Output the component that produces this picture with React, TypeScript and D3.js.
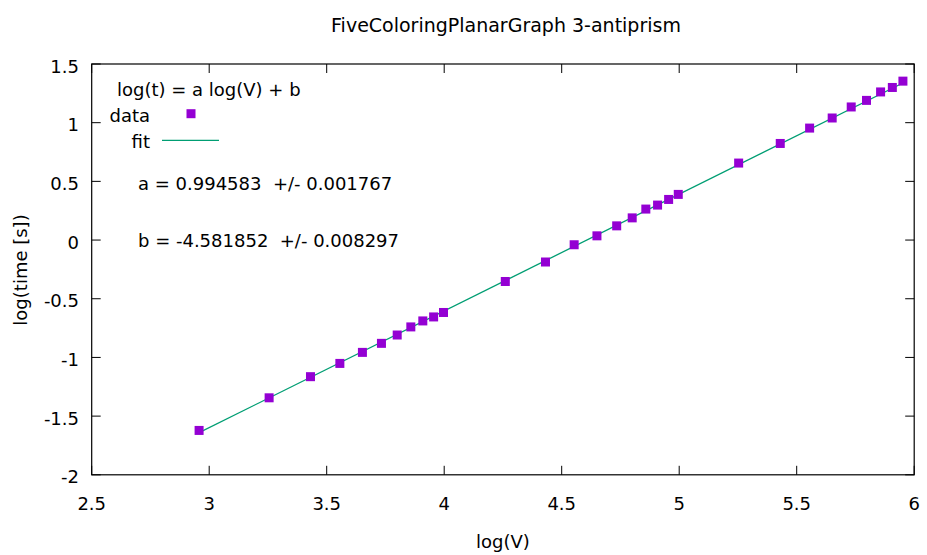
import React from "react";
import * as d3 from "d3";

const logV = [2.957, 3.255, 3.431, 3.556, 3.652, 3.733, 3.800, 3.858, 3.909, 3.955, 3.997, 4.260, 4.431, 4.553, 4.650, 4.734, 4.800, 4.858, 4.908, 4.955, 4.996, 5.253, 5.430, 5.555, 5.651, 5.732, 5.797, 5.857, 5.907, 5.952];
const logT = [-1.622, -1.344, -1.164, -1.051, -0.957, -0.880, -0.809, -0.740, -0.689, -0.655, -0.617, -0.353, -0.187, -0.040, 0.036, 0.121, 0.189, 0.264, 0.298, 0.346, 0.389, 0.656, 0.823, 0.954, 1.040, 1.134, 1.190, 1.262, 1.300, 1.354];
const fitA = 0.994583;
const fitB = -4.581852;
const xTicks = [2.5, 3, 3.5, 4, 4.5, 5, 5.5, 6];
const yTicks = [-2, -1.5, -1, -0.5, 0, 0.5, 1, 1.5];

const W = 927, H = 555;
const L = 91.7, R = 914.2, T = 64, B = 474.8;
const FONT = "DejaVu Sans";
const FS = 18;
const PURPLE = "#9400d3";
const GREEN = "#009e73";

export default function App() {
  const x = d3.scaleLinear().domain([2.5, 6]).range([L, R]);
  const y = d3.scaleLinear().domain([-2, 1.5]).range([B, T]);
  const xs = d3.extent(logV) as [number, number];
  const line = d3.line<number>().x(d => x(d)).y(d => y(fitA * d + fitB));
  const tl = 9;
  return (
    <svg width={W} height={H} style={{ position: "absolute", left: 0, top: 0, background: "#fff" }} fontFamily={FONT} fontSize={FS}>
      <rect x={0} y={0} width={W} height={H} fill="#fff" />
      {xTicks.map(t => (
        <g key={"x" + t}>
          <line x1={x(t)} x2={x(t)} y1={B} y2={B - tl} stroke="#000" strokeWidth={1} />
          <line x1={x(t)} x2={x(t)} y1={T} y2={T + tl} stroke="#000" strokeWidth={1} />
          <text x={x(t)} y={510} textAnchor="middle">{t}</text>
        </g>
      ))}
      {yTicks.map(t => (
        <g key={"y" + t}>
          <line x1={L} x2={L + tl} y1={y(t)} y2={y(t)} stroke="#000" strokeWidth={1} />
          <line x1={R} x2={R - tl} y1={y(t)} y2={y(t)} stroke="#000" strokeWidth={1} />
          <text x={79} y={y(t) + 8.5} textAnchor="end">{t}</text>
        </g>
      ))}
      <path d={line([xs[0], xs[1]]) || ""} stroke={GREEN} strokeWidth={1.3} fill="none" />
      {logV.map((v, i) => (
        <rect key={i} x={x(v) - 4.5} y={y(logT[i]) - 4.5} width={9} height={9} fill={PURPLE} />
      ))}
      <rect x={L} y={T} width={R - L} height={B - T} fill="none" stroke="#000" strokeWidth={1.2} />
      <text x={117} y={96}>log(t) = a log(V) + b</text>
      <text x={150} y={121.5} textAnchor="end">data</text>
      <rect x={186.5} y={109.2} width={9} height={9} fill={PURPLE} />
      <text x={150} y={148} textAnchor="end">fit</text>
      <line x1={162} x2={219} y1={140.3} y2={140.3} stroke={GREEN} strokeWidth={1.3} />
      <text x={138} y={189.5} style={{ whiteSpace: "pre" }}>{"a = 0.994583  +/- 0.001767"}</text>
      <text x={138} y={246.5} style={{ whiteSpace: "pre" }}>{"b = -4.581852  +/- 0.008297"}</text>
      <text x={506} y={31.5} textAnchor="middle" fontSize={19}>FiveColoringPlanarGraph 3-antiprism</text>
      <text x={503} y={548} textAnchor="middle">log(V)</text>
      <text transform={`translate(27,270) rotate(-90)`} textAnchor="middle">log(time [s])</text>
    </svg>
  );
}
